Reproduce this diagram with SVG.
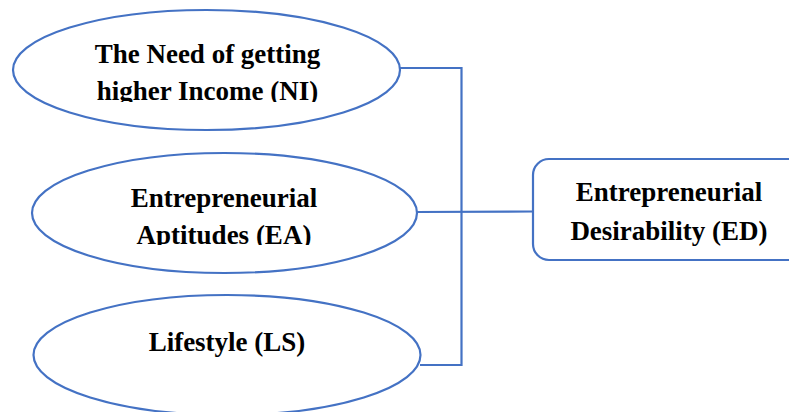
<svg xmlns="http://www.w3.org/2000/svg" width="789" height="412" viewBox="0 0 789 412">
<style>
.shape{fill:#fff;stroke:#4472C4;stroke-width:2.2}
.conn{fill:none;stroke:#4472C4;stroke-width:2.2}
.t{font-weight:bold;font-size:27px;fill:#000;text-anchor:middle}
</style>
<defs>
<clipPath id="c1"><rect x="0" y="0" width="789" height="102"/></clipPath>
<clipPath id="c2"><rect x="0" y="150" width="789" height="95"/></clipPath>
</defs>
<rect width="789" height="412" fill="#fff"/>
<g id="connectors">
<polyline class="conn" points="400,68 461.5,68 461.5,365 420,365"/>
<line class="conn" x1="417" y1="212" x2="533" y2="211.5"/>
</g>
<g id="NI" font-family="'Liberation Serif', 'DejaVu Serif', serif">
<ellipse class="shape" cx="206.5" cy="70" rx="193.5" ry="60"/>
<g clip-path="url(#c1)">
<text class="t" x="207.5" y="63">The Need of getting</text>
<text class="t" x="207.5" y="100">higher Income (NI)</text>
</g>
</g>
<g id="EA" font-family="'Liberation Serif', 'DejaVu Serif', serif">
<ellipse class="shape" cx="224.5" cy="213" rx="192.5" ry="60"/>
<g clip-path="url(#c2)">
<text class="t" x="224" y="207">Entrepreneurial</text>
<text class="t" x="224" y="244">Aptitudes (EA)</text>
</g>
</g>
<g id="LS" font-family="'Liberation Serif', 'DejaVu Serif', serif">
<ellipse class="shape" cx="227" cy="355" rx="193.5" ry="60"/>
<text class="t" x="227" y="351">Lifestyle (LS)</text>
</g>
<g id="ED" font-family="'Liberation Serif', 'DejaVu Serif', serif">
<rect class="shape" x="533" y="159" width="280" height="101" rx="16"/>
<text class="t" x="669" y="201">Entrepreneurial</text>
<text class="t" x="669" y="240">Desirability (ED)</text>
</g>
</svg>
